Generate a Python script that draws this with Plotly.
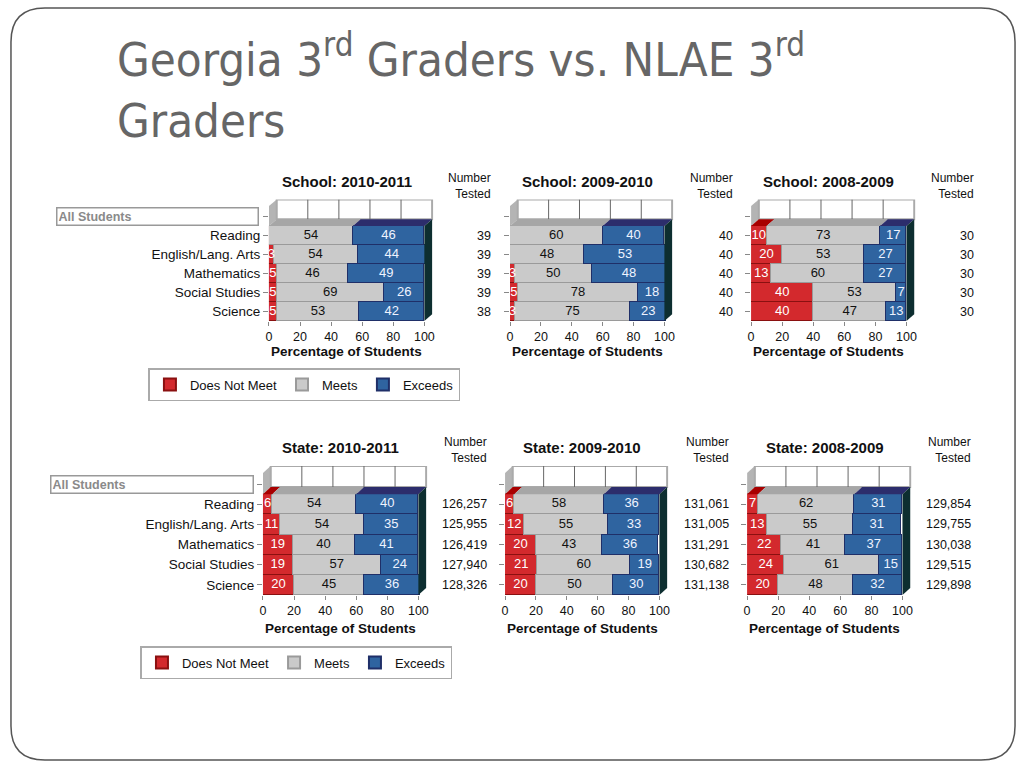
import plotly.graph_objects as go

# ---------------- data ----------------
subjects = ["Reading", "English/Lang. Arts", "Mathematics", "Social Studies", "Science"]
levels = ["Does Not Meet", "Meets", "Exceeds"]
x_ticks = [0, 20, 40, 60, 80, 100]

school_titles = ["School: 2010-2011", "School: 2009-2010", "School: 2008-2009"]
state_titles = ["State: 2010-2011", "State: 2009-2010", "State: 2008-2009"]

school_2011_dnm = [0, 3, 5, 5, 5]
school_2011_meets = [54, 54, 46, 69, 53]
school_2011_exceeds = [46, 44, 49, 26, 42]
school_2011_n = [39, 39, 39, 39, 38]

school_2010_dnm = [0, 0, 3, 5, 3]
school_2010_meets = [60, 48, 50, 78, 75]
school_2010_exceeds = [40, 53, 48, 18, 23]
school_2010_n = [40, 40, 40, 40, 40]

school_2009_dnm = [10, 20, 13, 40, 40]
school_2009_meets = [73, 53, 60, 53, 47]
school_2009_exceeds = [17, 27, 27, 7, 13]
school_2009_n = [30, 30, 30, 30, 30]

state_2011_dnm = [6, 11, 19, 19, 20]
state_2011_meets = [54, 54, 40, 57, 45]
state_2011_exceeds = [40, 35, 41, 24, 36]
state_2011_n = [126257, 125955, 126419, 127940, 128326]

state_2010_dnm = [6, 12, 20, 21, 20]
state_2010_meets = [58, 55, 43, 60, 50]
state_2010_exceeds = [36, 33, 36, 19, 30]
state_2010_n = [131061, 131005, 131291, 130682, 131138]

state_2009_dnm = [7, 13, 22, 24, 20]
state_2009_meets = [62, 55, 41, 61, 48]
state_2009_exceeds = [31, 31, 37, 15, 32]
state_2009_n = [129854, 129755, 130038, 129515, 129898]

# ---------------- styling ----------------
W, H = 1024, 768
FONT = "Liberation Sans, Arial, DejaVu Sans, sans-serif"
colors = ["#d3292d", "#cacaca", "#2f64a0"]
line_colors = ["#8a1010", "#9a9a9a", "#1f2f68"]
top_colors = ["#a80000", "#a6a6a6", "#2c2d6c"]
text_colors = ["white", "#111111", "#eef3ff"]
SIDE = "#0d2e30"
D = 5.0      # 3D depth (x units)
HH = 0.35    # 3D depth (row units)
XMAX = 106
YEXTRA = 0.4

charts = [
    (school_titles[0], [school_2011_dnm, school_2011_meets, school_2011_exceeds], school_2011_n),
    (school_titles[1], [school_2010_dnm, school_2010_meets, school_2010_exceeds], school_2010_n),
    (school_titles[2], [school_2009_dnm, school_2009_meets, school_2009_exceeds], school_2009_n),
    (state_titles[0], [state_2011_dnm, state_2011_meets, state_2011_exceeds], state_2011_n),
    (state_titles[1], [state_2010_dnm, state_2010_meets, state_2010_exceeds], state_2010_n),
    (state_titles[2], [state_2009_dnm, state_2009_meets, state_2009_exceeds], state_2009_n),
]

# layout positions in px
rows_px = [
    dict(xs=[(267, 423), (509, 664), (751, 907)], top=207, bottom=321, ncol=[492, 735, 977],
         title_y=182, hdr_y=186, axt_y=351, box=(53, 258)),
    dict(xs=[(261, 417), (504, 659), (747, 903)], top=474, bottom=595, ncol=[488, 731, 974],
         title_y=447, hdr_y=450, axt_y=628, box=(47, 253)),
]


def px(x):
    return x / W


def py(y):
    return 1 - y / H


n_sub = len(subjects)
ypos = [n_sub - 1 - i for i in range(n_sub)]  # Reading on top
tickvals_y = list(range(n_sub))
ticktext_y = [subjects[n_sub - 1 - v] for v in range(n_sub)]

fig = go.Figure()
shapes = []
annotations = []
layout = {}
text_traces = []

for ci, (title, series, ntested) in enumerate(charts):
    r = ci // 3
    c = ci % 3
    rp = rows_px[r]
    x0p, x100p = rp["xs"][c]
    pxu = (x100p - x0p) / 100.0
    row_px = (rp["bottom"] - rp["top"]) / (n_sub + 1)
    idx = ci + 1
    xa = "x" if idx == 1 else f"x{idx}"
    ya = "y" if idx == 1 else f"y{idx}"
    xkey = "xaxis" if idx == 1 else f"xaxis{idx}"
    ykey = "yaxis" if idx == 1 else f"yaxis{idx}"

    layout[xkey] = dict(
        domain=[px(x0p), px(x0p + pxu * XMAX)], range=[0, XMAX], anchor=ya,
        tickvals=x_ticks, ticks="outside", ticklen=4, tickcolor="#888",
        showgrid=False, zeroline=False, showline=False,
        tickfont=dict(family=FONT, size=12.5, color="#111"), fixedrange=True,
    )
    layout[ykey] = dict(
        domain=[py(rp["bottom"]), py(rp["top"] - YEXTRA * row_px)],
        range=[-0.5, n_sub + 0.5 + YEXTRA], anchor=xa,
        tickvals=tickvals_y, ticktext=ticktext_y, showticklabels=(c == 0),
        ticks="outside", ticklen=5, tickcolor="#888",
        minor=dict(tickvals=[n_sub], ticks="outside", ticklen=5, tickcolor="#888", showgrid=False),
        showgrid=False, zeroline=False, showline=False,
        tickfont=dict(family=FONT, size=13.5, color="#111"), fixedrange=True,
    )

    for li, (lev, vals) in enumerate(zip(levels, series)):
        fig.add_trace(go.Bar(
            x=vals, y=ypos, orientation="h", name=lev, xaxis=xa, yaxis=ya,
            width=1.0,
            marker=dict(color=colors[li], line=dict(color=line_colors[li], width=1)),
            showlegend=(c == 0), legend=("legend" if r == 0 else "legend2"),
            hoverinfo="skip",
        ))

    # value labels drawn on top of all bars
    cums = [0] * n_sub
    for li, vals in enumerate(series):
        xs_c, ys_c, ts_c = [], [], []
        for k, v in enumerate(vals):
            if v > 0:
                xs_c.append(cums[k] + v / 2.0)
                ys_c.append(ypos[k])
                ts_c.append(str(v))
            cums[k] += v
        text_traces.append(go.Scatter(
            x=xs_c, y=ys_c, text=ts_c, mode="text", xaxis=xa, yaxis=ya,
            textfont=dict(family=FONT, size=13, color=text_colors[li]),
            showlegend=False, hoverinfo="skip", cliponaxis=False,
        ))

    # 3D: left wall, back wall, top faces of first row, right side face
    ytop = n_sub - 0.5
    ywall = n_sub + 0.5 + YEXTRA
    shapes.append(dict(type="path", xref=xa, yref=ya,
                       path=f"M0,{ytop} L{D},{ytop + HH} L{D},{ywall} L0,{ywall - HH} Z",
                       fillcolor="#b4b4b4", line=dict(width=0), layer="above"))
    shapes.append(dict(type="rect", xref=xa, yref=ya, x0=D, x1=100 + D,
                       y0=ytop + HH, y1=ywall,
                       fillcolor="white", line=dict(color="#aaaaaa", width=2), layer="above"))
    for v in x_ticks[1:-1]:
        shapes.append(dict(type="line", xref=xa, yref=ya, x0=v + D, x1=v + D,
                           y0=ytop + HH, y1=ywall,
                           line=dict(color="#666666", width=1), layer="above"))
    cum = 0
    for li, vals in enumerate(series):
        v = vals[0]
        if v > 0:
            a, b = cum, cum + v
            shapes.append(dict(type="path", xref=xa, yref=ya,
                               path=f"M{a},{ytop} L{b},{ytop} L{b + D},{ytop + HH} L{a + D},{ytop + HH} Z",
                               fillcolor=top_colors[li], line=dict(width=0), layer="above"))
        cum += v
    shapes.append(dict(type="path", xref=xa, yref=ya,
                       path=f"M100,-0.5 L100,{ytop} L{100 + D},{ytop + HH} L{100 + D},{-0.5 + HH} Z",
                       fillcolor=SIDE, line=dict(width=0), layer="above"))

    # chart title
    annotations.append(dict(xref="paper", yref="paper", x=px(x0p + 50 * pxu), y=py(rp["title_y"]),
                            text=f"<b>{title}</b>", showarrow=False, xanchor="center", yanchor="middle",
                            font=dict(family=FONT, size=15, color="#111")))
    # axis title
    annotations.append(dict(xref="paper", yref="paper", x=px(x0p + 50 * pxu), y=py(rp["axt_y"]),
                            text="<b>Percentage of Students</b>", showarrow=False,
                            xanchor="center", yanchor="middle",
                            font=dict(family=FONT, size=13.5, color="#111")))
    # number tested header
    annotations.append(dict(xref="paper", yref="paper", x=px(rp["ncol"][c]), y=py(rp["hdr_y"]),
                            text="Number<br>Tested", showarrow=False, xanchor="right", yanchor="middle",
                            align="right", font=dict(family=FONT, size=12, color="#111")))
    for yy, n in zip(ypos, ntested):
        annotations.append(dict(xref="paper", yref=ya, x=px(rp["ncol"][c]), y=yy,
                                text=f"{n:,}", showarrow=False, xanchor="right", yanchor="middle",
                                font=dict(family=FONT, size=12.5, color="#111")))
    if c == 0:
        bx0, bx1 = rp["box"]
        annotations.append(dict(xref="paper", yref=ya, x=px(bx0), y=n_sub, xanchor="left",
                                yanchor="middle", text="<b>All Students</b>", showarrow=False,
                                align="left", width=bx1 - bx0 - 7, height=14, borderpad=1,
                                bordercolor="#999999", borderwidth=1.5, bgcolor="white",
                                font=dict(family=FONT, size=12.5, color="#8a8a8a")))

for t in text_traces:
    fig.add_trace(t)

# slide title
annotations.append(dict(xref="paper", yref="paper", x=px(112), y=py(23), xanchor="left", yanchor="top",
                        align="left", showarrow=False,
                        text="Georgia 3<sup>rd</sup> Graders vs. NLAE 3<sup>rd</sup><br>Graders",
                        font=dict(family="DejaVu Sans Condensed, Liberation Sans Narrow, Liberation Sans, sans-serif",
                                  size=47, color="#666666")))

# slide frame (rounded rectangle)
fx0, fx1, fy0, fy1, rad = 8, 1016, 8, 760, 34
frame = (f"M{px(fx0 + rad)},{py(fy0)} L{px(fx1 - rad)},{py(fy0)} "
         f"Q{px(fx1)},{py(fy0)} {px(fx1)},{py(fy0 + rad)} L{px(fx1)},{py(fy1 - rad)} "
         f"Q{px(fx1)},{py(fy1)} {px(fx1 - rad)},{py(fy1)} L{px(fx0 + rad)},{py(fy1)} "
         f"Q{px(fx0)},{py(fy1)} {px(fx0)},{py(fy1 - rad)} L{px(fx0)},{py(fy0 + rad)} "
         f"Q{px(fx0)},{py(fy0)} {px(fx0 + rad)},{py(fy0)} Z")
shapes.append(dict(type="path", xref="paper", yref="paper", path=frame,
                   line=dict(color="#555555", width=1.5), layer="below"))

legend_common = dict(orientation="h", xanchor="left", yanchor="top", bgcolor="white",
                     bordercolor="#aaaaaa", borderwidth=1.5,
                     font=dict(family=FONT, size=13, color="#111"),
                     itemsizing="constant", traceorder="normal")

fig.update_layout(
    width=W, height=H, margin=dict(l=0, r=0, t=0, b=0),
    paper_bgcolor="white", plot_bgcolor="white",
    barmode="stack", bargap=0,
    shapes=shapes, annotations=annotations,
    legend=dict(x=px(146), y=py(368), **legend_common),
    legend2=dict(x=px(138), y=py(646), **legend_common),
    font=dict(family=FONT),
    **layout,
)

fig.write_html("out.html", config={"displayModeBar": False},
               post_script="document.body.style.margin='0';document.body.style.overflow='hidden';")
